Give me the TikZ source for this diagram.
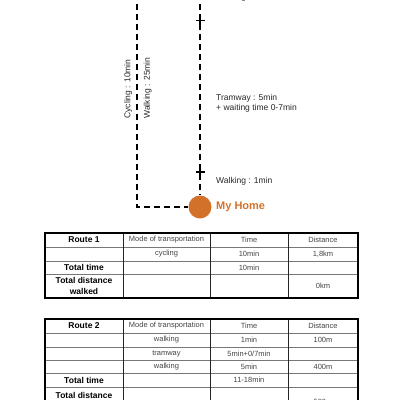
\documentclass[tikz,border=0pt]{standalone}
\usepackage{fontspec}
\setmainfont{Liberation Sans}
\definecolor{homeorange}{HTML}{D2722A}
\definecolor{celltext}{HTML}{444444}
\definecolor{hline}{HTML}{777777}
\begin{document}
\begin{tikzpicture}[x=1pt,y=-1pt,
  route/.style={draw=black, line width=1.9pt, dash pattern=on 6pt off 4pt},
  plusmark/.style={draw=black, line width=1.6pt},
  lbl/.style={font=\fontsize{8.5}{10}\selectfont, inner sep=0pt, text=black!85},
  cell/.style={font=\fontsize{7.5}{9}\selectfont, inner sep=0pt, text=celltext, align=center},
  hcell/.style={font=\fontsize{8.5}{10.5}\selectfont\bfseries, inner sep=0pt, text=black, align=center},
  outer/.style={draw=black, line width=1.1pt},
  vrule/.style={draw=black!85, line width=0.9pt},
  hrule/.style={draw=hline, line width=0.6pt}]
\useasboundingbox (0,0) rectangle (400,400);
\clip (0,0) rectangle (400,400);

% ---- map ----
\node[circle, fill=homeorange, minimum size=23pt, inner sep=0pt] (home) at (200,207) {};
\node[font=\fontsize{11}{13}\selectfont\bfseries, text=homeorange, anchor=west, inner sep=0pt] (hometxt) at (216,207) {My Home};
\coordinate (ltop) at (137,-6);
\coordinate (corner) at (137,207);
\coordinate (rtop) at (200,-6);
\draw[route] (ltop) -- (corner) -- (home.west);
\draw[route] (rtop) -- (home.north);
\draw[plusmark] (195.5,20.5) -- (204.5,20.5) (200,15.5) -- (200,25.5);
\draw[plusmark] (195.5,172) -- (204.5,172) (200,167) -- (200,177);

\node[lbl, anchor=base west] (walk5) at (216,-0.5) {Walking : 5min};
\node[lbl, anchor=west, align=left] (tram) at (216,103.5) {Tramway : 5min\\+ waiting time 0-7min};
\node[lbl, anchor=west] (walk1) at (216,181) {Walking : 1min};
\node[lbl, rotate=90] (cyc) at (128.3,89) {Cycling : 10min};
\node[lbl, rotate=90] (walk25) at (147.7,88) {Walking : 25min};

% ---- table 1 ----
\foreach \y in {247,261,274} \draw[hrule] (45,\y) -- (358,\y);
\foreach \x in {123,210,288} \draw[vrule] (\x,233) -- (\x,298);
\draw[outer] (45,233) rectangle (358,298);
\node[hcell] (a11) at (84,240) {Route 1};
\node[cell] (a12) at (166.5,240) {Mode of transportation};
\node[cell] (a13) at (249,240) {Time};
\node[cell] (a14) at (323,240) {Distance};
\node[cell] (a22) at (166.5,254) {cycling};
\node[cell] (a23) at (249,254) {10min};
\node[cell] (a24) at (323,254) {1,8km};
\node[hcell] (a31) at (84,267.5) {Total time};
\node[cell] (a33) at (249,267.5) {10min};
\node[hcell] (a41) at (84,286) {Total distance\\walked};
\node[cell] (a44) at (323,286) {0km};

% ---- table 2 ----
\foreach \y in {333,347,360,373,387} \draw[hrule] (45,\y) -- (358,\y);
\foreach \x in {123,210,288} \draw[vrule] (\x,319) -- (\x,416);
\draw[outer] (45,319) rectangle (358,416);
\node[hcell] (b11) at (84,326) {Route 2};
\node[cell] (b12) at (166.5,326) {Mode of transportation};
\node[cell] (b13) at (249,326) {Time};
\node[cell] (b14) at (323,326) {Distance};
\node[cell] (b22) at (166.5,340) {walking};
\node[cell] (b23) at (249,340) {1min};
\node[cell] (b24) at (323,340) {100m};
\node[cell] (b32) at (166.5,353.5) {tramway};
\node[cell] (b33) at (249,353.5) {5min+0/7min};
\node[cell] (b42) at (166.5,366.5) {walking};
\node[cell] (b43) at (249,366.5) {5min};
\node[cell] (b44) at (323,366.5) {400m};
\node[hcell] (b51) at (84,380) {Total time};
\node[cell] (b53) at (249,380) {11-18min};
\node[hcell] (b61) at (84,401) {Total distance\\walked};
\node[cell] (b64) at (323,402) {500m};
\end{tikzpicture}
\end{document}
